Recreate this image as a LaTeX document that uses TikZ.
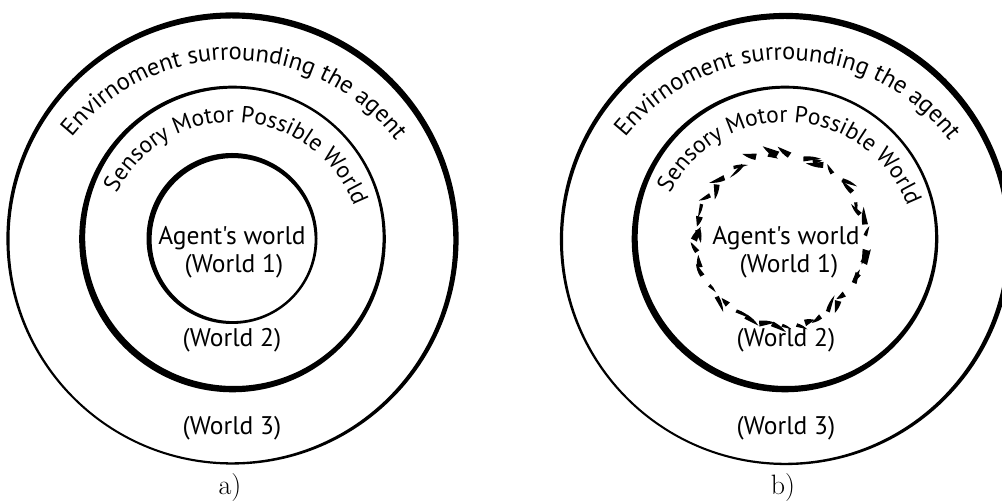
\documentclass[tikz,border=0pt]{standalone}
\usepackage{fontspec}
\newfontfamily\ptsans{PT Sans}
\usetikzlibrary{decorations.text}
\tikzset{
  lbl/.style={font=\ptsans\fontsize{25.5}{28}\selectfont, inner sep=0pt, anchor=base},
  caplbl/.style={font=\fontsize{28}{30}\selectfont, inner sep=0pt, anchor=base},
  arctext/.style={decorate, decoration={text along path, text align=center, text={|\ptsans\fontsize{24.5}{28}\selectfont|#1}}},
  arctextsm/.style={decorate, decoration={text along path, text align=center, text={|\ptsans\fontsize{23.5}{28}\selectfont|#1}}}
}
% ring with varying stroke width: centre, radius, mean width, hole shift
\newcommand\ringfill[6]{%
  \pgfmathsetmacro\ringRo{#3+#4/2}%
  \pgfmathsetmacro\ringRi{#3-#4/2}%
  \fill[even odd rule] (#1,#2) circle[radius=\ringRo] ({#1+#5},{#2+#6}) circle[radius=\ringRi];}
\begin{document}
\begin{tikzpicture}[x=1pt,y=1pt]
\useasboundingbox (0,0) rectangle (1002,502);
\clip (0,0) rectangle (1002,502);
\fill[white] (0,0) rectangle (1002,502);

% ---------------- panel a ----------------
\ringfill{232.5}{263.5}{224}{4.2}{-1.1}{-1.9}
\ringfill{232.5}{263}{151}{4.6}{1.4}{1.7}
\ringfill{232}{263.5}{83.5}{4}{1.1}{-1.1}
\path[arctext={Envirnoment surrounding the agent}] (232.5,236) ++(179.4:206) arc[start angle=179.4, end angle=-0.6, radius=206];
\path[arctextsm={Sensory Motor Possible World}] (232.5,250) ++(177:130) arc[start angle=177, end angle=-3, radius=130];
\node[lbl] (aw) at (232,257) {Agent's world};
\node[lbl] (aw1) at (234,229) {(World 1)};
\node[lbl] (aw2) at (232,155) {(World 2)};
\node[lbl] (aw3) at (232,67) {(World 3)};
\node[caplbl] (acap) at (230,7) {a)};

% ---------------- panel b ----------------
\ringfill{786}{263}{224}{4.2}{-1.1}{-1.9}
\ringfill{785}{263}{151}{4.6}{1.4}{1.7}
\path[arctext={Envirnoment surrounding the agent}] (786,236) ++(179.4:206) arc[start angle=179.4, end angle=-0.6, radius=206];
\path[arctextsm={Sensory Motor Possible World}] (786,250) ++(177:130) arc[start angle=177, end angle=-3, radius=130];
\begin{scope}[shift={(780.5,262.5)}]
  \pgfmathsetseed{7}
  \foreach \i in {0,...,43}{
    \pgfmathsetmacro\wa{\i*360/44 + 3*rnd}
    \pgfmathsetmacro\wL{9+9*rnd}
    \pgfmathsetmacro\ww{3+4.5*rnd}
    \pgfmathsetmacro\wr{85+4*(rnd-0.5)}
    \pgfmathsetmacro\wdir{rnd<0.6 ? 1 : -1}
    \pgfmathsetmacro\wth{\wa+\wdir*(90-70*(rnd-0.5))}
    \pgfmathsetmacro\bx{\wr*cos(\wa)}
    \pgfmathsetmacro\by{\wr*sin(\wa)}
    \pgfmathsetmacro\tx{\bx+\wL*cos(\wth)}
    \pgfmathsetmacro\ty{\by+\wL*sin(\wth)}
    \pgfmathsetmacro\px{\ww/2*cos(\wth+90)}
    \pgfmathsetmacro\py{\ww/2*sin(\wth+90)}
    \fill ({\bx+\px},{\by+\py}) to[bend left=12] (\tx,\ty) -- ({\bx-\px},{\by-\py}) -- cycle;
  }
\end{scope}
\node[lbl] (bw) at (786,257) {Agent's world};
\node[lbl] (bw1) at (789,229) {(World 1)};
\node[lbl] (bw2) at (786,155) {(World 2)};
\node[lbl] (bw3) at (786,67) {(World 3)};
\node[caplbl] (bcap) at (783,7) {b)};
\end{tikzpicture}
\end{document}
